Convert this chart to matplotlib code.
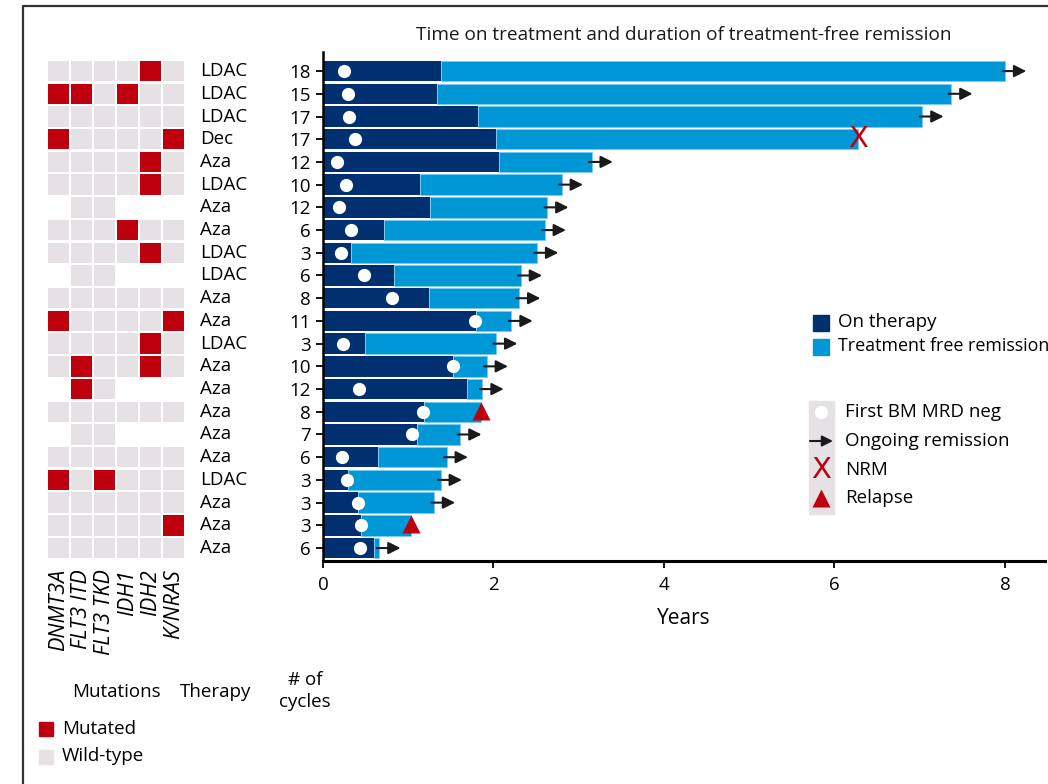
import matplotlib.pyplot as plt
import matplotlib.transforms as mtransforms
from matplotlib.patches import Rectangle, FancyArrowPatch
from matplotlib.lines import Line2D

plt.rcParams['font.family'] = ['Open Sans', 'DejaVu Sans']

# ---- data (rows top to bottom) ----
therapy = ['LDAC', 'LDAC', 'LDAC', 'Dec', 'Aza', 'LDAC', 'Aza', 'Aza', 'LDAC', 'LDAC', 'Aza',
           'Aza', 'LDAC', 'Aza', 'Aza', 'Aza', 'Aza', 'Aza', 'LDAC', 'Aza', 'Aza', 'Aza']
cycles = [18, 15, 17, 17, 12, 10, 12, 6, 3, 6, 8, 11, 3, 10, 12, 8, 7, 6, 3, 3, 3, 6]
on_therapy = [1.38, 1.34, 1.82, 2.03, 2.07, 1.14, 1.26, 0.71, 0.33, 0.83, 1.24,
              1.79, 0.49, 1.53, 1.69, 1.18, 1.10, 0.64, 0.29, 0.41, 0.44, 0.60]
total_years = [8.0, 7.37, 7.03, 6.28, 3.15, 2.80, 2.63, 2.60, 2.51, 2.32, 2.30,
               2.21, 2.03, 1.92, 1.87, 1.85, 1.61, 1.45, 1.38, 1.30, 1.03, 0.66]
first_mrd_neg = [0.25, 0.29, 0.30, 0.38, 0.17, 0.27, 0.19, 0.33, 0.21, 0.48, 0.81,
                 1.78, 0.24, 1.53, 0.42, 1.17, 1.04, 0.22, 0.28, 0.41, 0.44, 0.43]
# 'ongoing', 'nrm', 'relapse'
outcome = ['ongoing', 'ongoing', 'ongoing', 'nrm', 'ongoing', 'ongoing', 'ongoing', 'ongoing',
           'ongoing', 'ongoing', 'ongoing', 'ongoing', 'ongoing', 'ongoing', 'ongoing', 'relapse',
           'ongoing', 'ongoing', 'ongoing', 'ongoing', 'relapse', 'ongoing']

genes = ['DNMT3A', 'FLT3 ITD', 'FLT3 TKD', 'IDH1', 'IDH2', 'K/NRAS']
# 1 = mutated, 0 = wild-type, -1 = not tested
mutations = [
    [0, 0, 0, 0, 1, 0],
    [1, 1, 0, 1, 0, 0],
    [0, 0, 0, 0, 0, 0],
    [1, 0, 0, 0, 0, 1],
    [0, 0, 0, 0, 1, 0],
    [0, 0, 0, 0, 1, 0],
    [-1, 0, 0, -1, -1, -1],
    [0, 0, 0, 1, 0, 0],
    [0, 0, 0, 0, 1, 0],
    [-1, 0, 0, -1, -1, -1],
    [0, 0, 0, 0, 0, 0],
    [1, 0, 0, 0, 0, 1],
    [0, 0, 0, 0, 1, 0],
    [0, 1, 0, 0, 1, 0],
    [-1, 1, 0, -1, -1, -1],
    [0, 0, 0, 0, 0, 0],
    [-1, 0, 0, -1, -1, -1],
    [0, 0, 0, 0, 0, 0],
    [1, 0, 1, 0, 0, 0],
    [0, 0, 0, 0, 0, 0],
    [0, 0, 0, 0, 0, 1],
    [0, 0, 0, 0, 0, 0],
]

NAVY = '#00306F'
LIGHT = '#0097D7'
RED = '#BE000E'
GREY = '#E6E1E5'
W, H = 1048, 784
FS = 13.5

fig = plt.figure(figsize=(10.48, 7.84), dpi=100)


def fx(px):
    return px / W


def fy(py):
    return 1 - py / H


# main timeline axes
ax = fig.add_axes([fx(323), fy(561), fx(1045) - fx(323), fy(52) - fy(561)])
rows = list(range(len(cycles)))
off_therapy = [t - d for t, d in zip(total_years, on_therapy)]
ax.barh(rows, on_therapy, height=0.9, color=NAVY, edgecolor='none')
ax.barh(rows, off_therapy, left=on_therapy, height=0.9, color=LIGHT,
        edgecolor='#7ccbef', linewidth=0.6)
ax.plot(first_mrd_neg, rows, 'o', color='white', ms=9.5, mec='none', zorder=5)

for r, (t, oc) in enumerate(zip(total_years, outcome)):
    if oc == 'ongoing':
        ax.annotate('', xy=(t + 0.25, r), xytext=(t - 0.03, r),
                    arrowprops=dict(arrowstyle='-|>', color='#1a1a1a', lw=1.5,
                                    mutation_scale=18, shrinkA=0, shrinkB=0), zorder=6)
    elif oc == 'nrm':
        ax.text(t, r, 'X', color=RED, ha='center', va='center', fontsize=21,
                family='DejaVu Sans', zorder=6)
    elif oc == 'relapse':
        ax.plot(t, r - 0.05, '^', color=RED, ms=13, mec='none', zorder=6)

ax.set_xlim(0, 8.47)
ax.set_ylim(len(rows) - 0.43, -0.84)
ax.set_xticks([0, 2, 4, 6, 8])
ax.set_yticks(rows)
ax.set_yticklabels(cycles)
ax.tick_params(axis='y', length=5, width=1.3, pad=4, labelsize=FS)
ax.tick_params(axis='x', length=5, width=1.3, pad=6, labelsize=FS)
for s in ['top', 'right']:
    ax.spines[s].set_visible(False)
ax.spines['left'].set_linewidth(1.8)
ax.spines['bottom'].set_linewidth(2.2)
ax.set_xlabel('Years', fontsize=15, labelpad=10)
ax.set_title('Time on treatment and duration of treatment-free remission',
             fontsize=13.7, pad=9, x=0.5, color='#1a1a1a')

# therapy column
trans = mtransforms.blended_transform_factory(fig.transFigure, ax.transData)
for r, th in enumerate(therapy):
    ax.text(fx(200), r, th, transform=trans, ha='left', va='center', fontsize=FS)

# mutation grid
gx = fig.add_axes([fx(47), fy(561), fx(185) - fx(47), fy(52) - fy(561)], sharey=ax)
for r, row in enumerate(mutations):
    for c, v in enumerate(row):
        if v < 0:
            continue
        gx.bar(c, 0.9, bottom=r - 0.45, width=0.92,
               color=RED if v == 1 else GREY, edgecolor='none')
gx.set_xlim(-0.5, 5.5)
gx.set_xticks(range(len(genes)))
gx.set_xticklabels(genes, rotation=90, fontstyle='italic', fontsize=15.5, va='top')
gx.tick_params(axis='x', length=0, pad=6)
gx.tick_params(axis='y', left=False, labelleft=False)
for s in gx.spines.values():
    s.set_visible(False)

# column headers under the chart
fig.text(fx(116), fy(692), 'Mutations', ha='center', va='center', fontsize=FS)
fig.text(fx(216), fy(692), 'Therapy', ha='center', va='center', fontsize=FS)
fig.text(fx(305), fy(691), '# of\ncycles', ha='center', va='center', fontsize=FS,
         linespacing=1.3)

# mutation legend
fig.patches.append(Rectangle((fx(39), fy(736)), fx(14), 14 / H, color=RED,
                             transform=fig.transFigure))
fig.text(fx(62), fy(729), 'Mutated', va='center', fontsize=FS)
fig.patches.append(Rectangle((fx(39), fy(764)), fx(14), 14 / H, color=GREY,
                             transform=fig.transFigure))
fig.text(fx(62), fy(756), 'Wild-type', va='center', fontsize=FS)

# treatment legend
fig.patches.append(Rectangle((fx(813), fy(331)), fx(16), 16 / H, color=NAVY,
                             transform=fig.transFigure))
fig.text(fx(838), fy(322), 'On therapy', va='center', fontsize=FS)
fig.patches.append(Rectangle((fx(813), fy(355)), fx(16), 16 / H, color=LIGHT,
                             transform=fig.transFigure))
fig.text(fx(838), fy(346), 'Treatment free remission', va='center', fontsize=12.9)

# marker legend
fig.patches.append(Rectangle((fx(809), fy(514)), fx(25), 113 / H, color=GREY,
                             transform=fig.transFigure))
fig.lines.append(Line2D([fx(821)], [fy(412)], marker='o', color='white', ms=9.5, mec='none',
                        transform=fig.transFigure))
fig.patches.append(FancyArrowPatch(
    (fx(810), fy(441)), (fx(833), fy(441)), arrowstyle='-|>', mutation_scale=16,
    color='#1a1a1a', lw=1.5, transform=fig.transFigure, shrinkA=0, shrinkB=0))
fig.text(fx(821), fy(470), 'X', color=RED, ha='center', va='center', fontsize=21,
         family='DejaVu Sans')
fig.lines.append(Line2D([fx(821)], [fy(498)], marker='^', color=RED, ms=13, mec='none',
                        transform=fig.transFigure))
for yy, lab in zip([412, 441, 470, 498],
                   ['First BM MRD neg', 'Ongoing remission', 'NRM', 'Relapse']):
    fig.text(fx(845), fy(yy), lab, va='center', fontsize=FS)

# outer frame
fig.lines.append(Line2D([fx(22.5), fx(22.5), 1], [0, fy(5.5), fy(5.5)], color='#333333',
                        lw=1.6, transform=fig.transFigure))

fig.savefig('out.png', dpi=100)
